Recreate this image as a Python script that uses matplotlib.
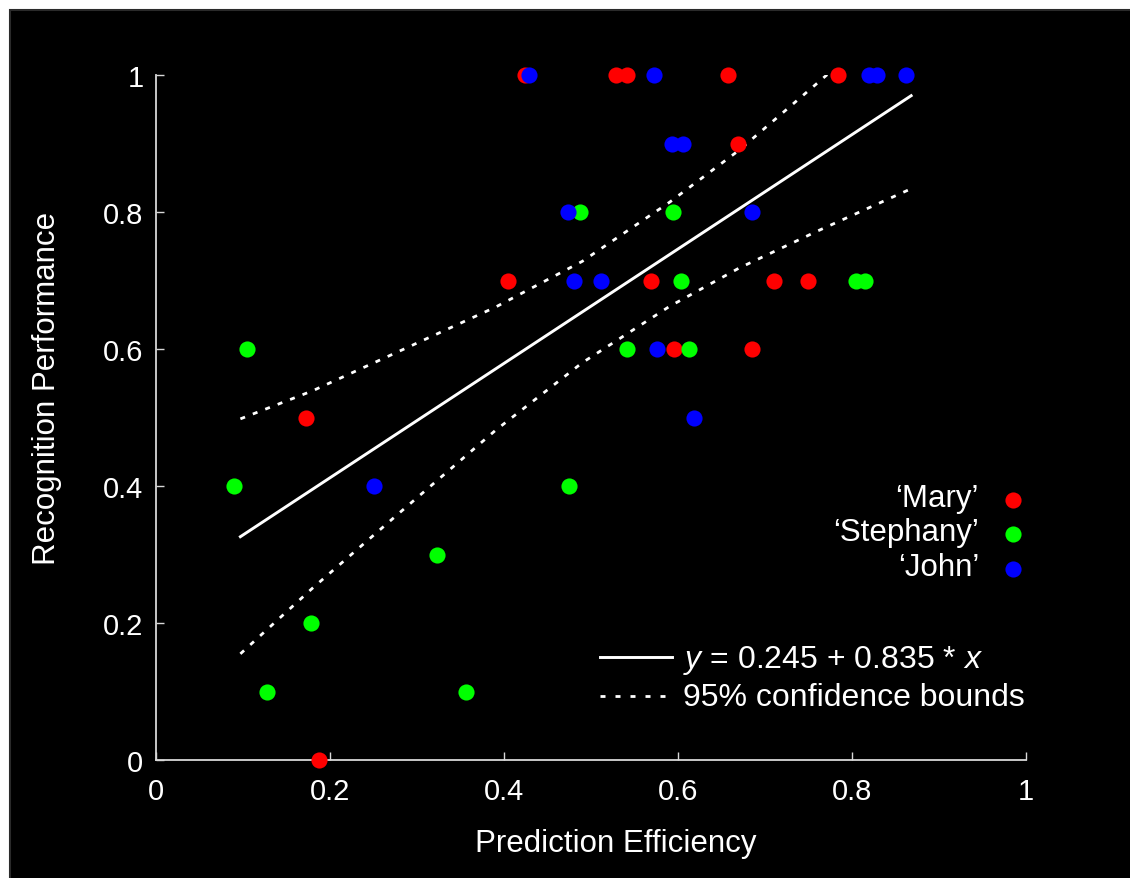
import numpy as np
import matplotlib
matplotlib.use("Agg")
import matplotlib.pyplot as plt
from matplotlib.patches import Rectangle

plt.rcParams['font.family'] = ['Liberation Sans', 'DejaVu Sans']
plt.rcParams['mathtext.fontset'] = 'custom'
plt.rcParams['mathtext.rm'] = 'Liberation Sans'
plt.rcParams['mathtext.it'] = 'Liberation Sans:italic'

# per-speaker scores: prediction efficiency vs recognition performance
mary_x = [0.424, 0.529, 0.541, 0.657, 0.784, 0.669, 0.405, 0.569, 0.710, 0.749,
          0.595, 0.685, 0.172, 0.187]
mary_y = [1.0, 1.0, 1.0, 1.0, 1.0, 0.9, 0.7, 0.7, 0.7, 0.7, 0.6, 0.6, 0.5, 0.0]

stephany_x = [0.487, 0.594, 0.603, 0.805, 0.815, 0.541, 0.613, 0.105, 0.090, 0.475,
              0.323, 0.178, 0.128, 0.356]
stephany_y = [0.8, 0.8, 0.7, 0.7, 0.7, 0.6, 0.6, 0.6, 0.4, 0.4, 0.3, 0.2, 0.1, 0.1]

john_x = [0.429, 0.572, 0.820, 0.829, 0.862, 0.593, 0.606, 0.474, 0.685, 0.480,
          0.511, 0.576, 0.618, 0.251]
john_y = [1.0, 1.0, 1.0, 1.0, 1.0, 0.9, 0.9, 0.8, 0.8, 0.7, 0.7, 0.6, 0.5, 0.4]

# linear fit y = a + b*x over the data range
fit_a = 0.245
fit_b = 0.835
fit_range = [0.097, 0.868]

# 95% confidence band
band_x = [0.097, 0.18, 0.28, 0.39, 0.49, 0.59, 0.67, 0.76, 0.868]
band_upper = [0.498, 0.539, 0.597, 0.661, 0.728, 0.814, 0.890, 0.988, 1.106]
band_lower = [0.155, 0.251, 0.361, 0.481, 0.580, 0.662, 0.718, 0.772, 0.834]

tick_vals = [0, 0.2, 0.4, 0.6, 0.8, 1.0]
tick_labels = ['0', '0.2', '0.4', '0.6', '0.8', '1']

W, H = 1130, 879
fig = plt.figure(figsize=(W / 100, H / 100), dpi=100, facecolor='white')
# black panel with a thin white margin on top and left
fig.patches.append(Rectangle((10 / W, -0.05), 1.05, (H - 11) / H + 0.05,
                             transform=fig.transFigure, facecolor='black',
                             edgecolor='#2a2a2a', linewidth=1.5, zorder=-10))

ax = fig.add_axes([156 / W, (H - 761) / H, 870 / W, 685 / H])
ax.set_zorder(1)
ax.patch.set_alpha(0)

fg = '#d8d8d8'
dots = (0, (1.8, 3.0))

fx = np.array(fit_range)
ax.plot(fx, fit_a + fit_b * fx, color='white', lw=2.1, zorder=2)
ax.plot(band_x, band_upper, color='white', lw=2.0, ls=dots, zorder=2)
ax.plot(band_x, band_lower, color='white', lw=2.0, ls=dots, zorder=2)

ms = 135
ax.scatter(mary_x, mary_y, s=ms, color='#ff0000', linewidths=0, zorder=3, clip_on=False)
ax.scatter(stephany_x, stephany_y, s=ms, color='#00ff00', linewidths=0, zorder=3, clip_on=False)
ax.scatter(john_x, john_y, s=ms, color='#0000ff', linewidths=0, zorder=3, clip_on=False)

ax.set_xlim(0, 1)
ax.set_ylim(0, 1)
ax.set_xticks(tick_vals)
ax.set_xticklabels(tick_labels)
ax.set_yticks(tick_vals)
ax.set_yticklabels(tick_labels)
for s in ['top', 'right']:
    ax.spines[s].set_visible(False)
for s in ['left', 'bottom']:
    ax.spines[s].set_color(fg)
    ax.spines[s].set_linewidth(1.3)
ax.tick_params(direction='in', length=6, width=1, color=fg, labelcolor='white',
               labelsize=21)
ax.tick_params(axis='x', pad=12)
ax.tick_params(axis='y', pad=9)

fig.text(616 / W, (H - 852) / H, 'Prediction Efficiency', color='white',
         fontsize=22.5, ha='center', va='baseline')
fig.text(47 / W, (H - 388) / H, 'Recognition Performance', color='white',
         fontsize=22.5, ha='center', va='center', rotation=90)

# speaker key
names = ['\u2018Mary\u2019', '\u2018Stephany\u2019', '\u2018John\u2019']
colors = ['#ff0000', '#00ff00', '#0000ff']
key_base = [0.371, 0.321, 0.270]
key_mark = [0.380, 0.3295, 0.279]
for name, c, yb, ym in zip(names, colors, key_base, key_mark):
    ax.text(0.946, yb, name, transform=ax.transAxes, color='white', fontsize=22.5,
            ha='right', va='baseline')
    ax.scatter([0.985], [ym], s=ms, color=c, linewidths=0, transform=ax.transAxes,
               clip_on=False, zorder=4)

# line key
ax.plot([0.510, 0.593], [0.1504, 0.1504], color='white', lw=2.1,
        transform=ax.transAxes, clip_on=False)
ax.plot([0.510, 0.593], [0.0939, 0.0939], color='white', lw=2.0,
        ls=(0, (1.8, 3.6)), transform=ax.transAxes, clip_on=False)
ax.text(0.6063, 0.1353, r'$y$ = %.3f + %.3f * $x$' % (fit_a, fit_b),
        transform=ax.transAxes, color='white', fontsize=23, ha='left', va='baseline')
ax.text(0.6063, 0.0803, '95% confidence bounds', transform=ax.transAxes,
        color='white', fontsize=23, ha='left', va='baseline')

fig.savefig('out.png', dpi=100, facecolor=fig.get_facecolor())
